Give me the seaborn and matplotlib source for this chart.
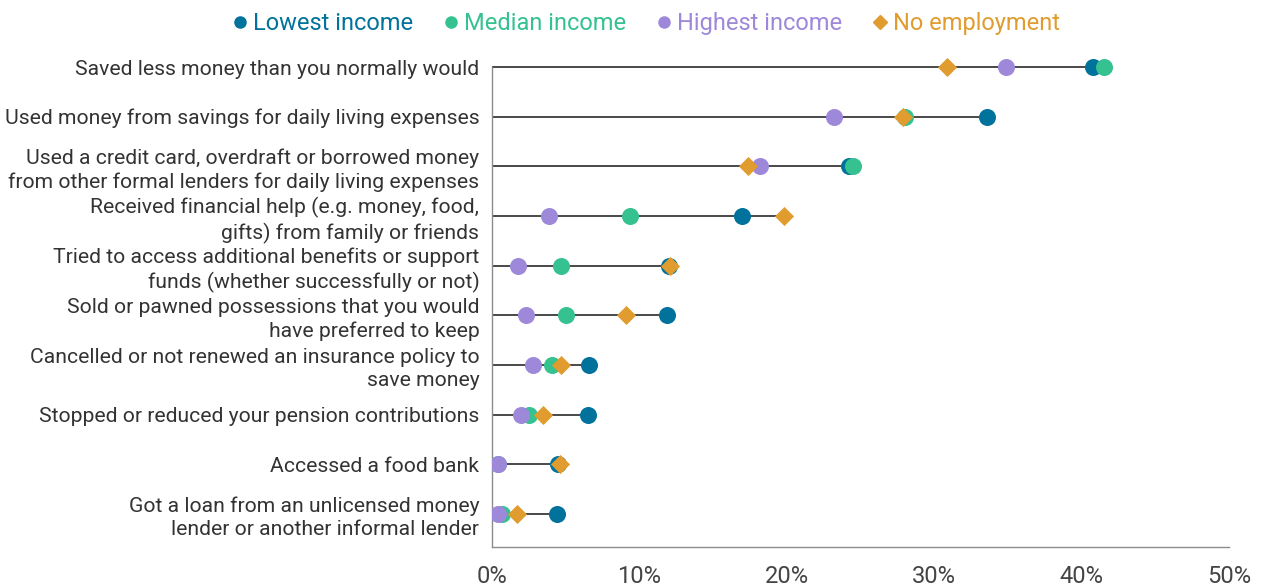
import pandas as pd
import matplotlib.pyplot as plt
import seaborn as sns

categories = [
    "Saved less money than you normally would",
    "Used money from savings for daily living expenses",
    "Used a credit card, overdraft or borrowed money\nfrom other formal lenders for daily living expenses",
    "Received financial help (e.g. money, food,\ngifts) from family or friends",
    "Tried to access additional benefits or support\nfunds (whether successfully or not)",
    "Sold or pawned possessions that you would\nhave preferred to keep",
    "Cancelled or not renewed an insurance policy to\nsave money",
    "Stopped or reduced your pension contributions",
    "Accessed a food bank",
    "Got a loan from an unlicensed money\nlender or another informal lender",
]
lowest = [40.8, 33.6, 24.2, 17.0, 12.0, 11.9, 6.6, 6.5, 4.5, 4.4]
median = [41.5, 28.0, 24.5, 9.4, 4.7, 5.0, 4.1, 2.5, 0.4, 0.7]
highest = [34.9, 23.2, 18.2, 3.9, 1.8, 2.3, 2.8, 2.0, 0.4, 0.4]
no_employment = [30.9, 27.9, 17.4, 19.8, 12.1, 9.1, 4.7, 3.5, 4.6, 1.7]

series = ["Lowest income", "Median income", "Highest income", "No employment"]
colors = {"Lowest income": "#00729b", "Median income": "#35c190",
          "Highest income": "#9d88da", "No employment": "#e09c2e"}
markers = {"Lowest income": "o", "Median income": "o",
           "Highest income": "o", "No employment": "D"}

sns.set_style("white")
plt.rcParams['font.family'] = ['Roboto', 'DejaVu Sans']

rows = []
for name, vals in zip(series, [lowest, median, highest, no_employment]):
    for i, v in enumerate(vals):
        rows.append({"pos": i, "value": v, "series": name})
df = pd.DataFrame(rows)

fig, ax = plt.subplots(figsize=(12.61, 5.86), dpi=100)
fig.subplots_adjust(left=0.390, right=0.9746, top=0.928, bottom=0.0666)

# stems from zero to the largest value in each row
for i in range(len(categories)):
    m = max(lowest[i], median[i], highest[i], no_employment[i])
    ax.plot([0, m], [i, i], color="#3a3a3a", lw=1.3, zorder=1)

for name in series:
    sub = df[df["series"] == name]
    size = 95 if markers[name] == "D" else 150
    sns.scatterplot(data=sub, x="value", y="pos", ax=ax, color=colors[name],
                    marker=markers[name], s=size, linewidth=0, zorder=3,
                    label=name, legend=False)

ax.set_xlim(0, 50)
ax.set_ylim(9.66, -0.5)
ax.set_xticks([0, 10, 20, 30, 40, 50])
ax.set_xticklabels([f"{t}%" for t in [0, 10, 20, 30, 40, 50]])
ax.set_yticks(range(len(categories)))
ax.set_yticklabels(categories, fontsize=15.2, color="#333333", linespacing=1.25)
ax.set_xlabel("")
ax.set_ylabel("")

for s in ["top", "right"]:
    ax.spines[s].set_visible(False)
for s in ["left", "bottom"]:
    ax.spines[s].set_color("#8c8c8c")
    ax.spines[s].set_linewidth(1.0)
ax.spines["left"].set_bounds(0, 9.66)

ax.tick_params(axis="x", length=7, width=1, color="#8c8c8c", labelsize=17,
               labelcolor="#444444", pad=6)
ax.tick_params(axis="y", length=4, width=1, color="#8c8c8c", pad=5)
for lab in ax.get_xticklabels():
    lab.set_fontfamily(['Liberation Sans Narrow', 'Roboto', 'DejaVu Sans'])

handles = [plt.Line2D([], [], marker=markers[n], color=colors[n], linestyle="",
                      markersize=7 if markers[n] == "D" else 8) for n in series]
leg = fig.legend(handles, series, loc="upper center", bbox_to_anchor=(0.511, 1.015),
                 ncol=4, frameon=False, fontsize=17, handletextpad=0.05,
                 columnspacing=1.1, handlelength=1.0)
for t, n in zip(leg.get_texts(), series):
    t.set_color(colors[n])

fig.savefig("out.png", dpi=100)
